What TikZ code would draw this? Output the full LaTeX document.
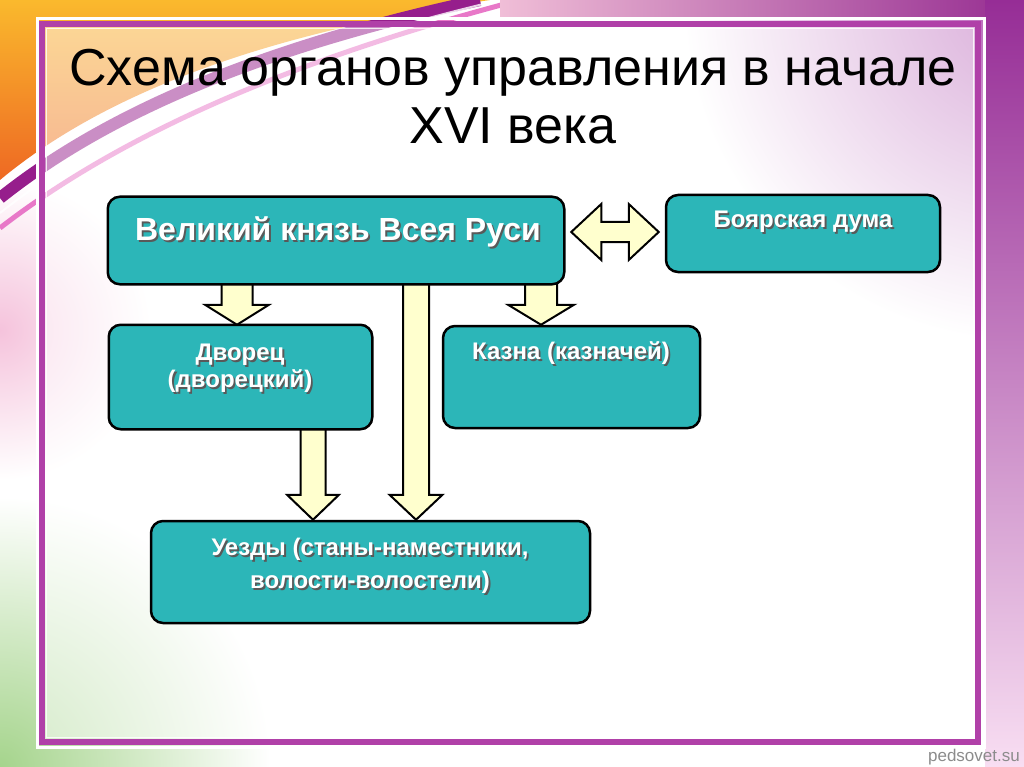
\documentclass[tikz,border=0pt]{standalone}
\usepackage{fontspec}
\setmainfont{Liberation Sans}
\newfontfamily\bx{Liberation Sans}
\usetikzlibrary{calc}
\definecolor{tealbox}{RGB}{44,182,184}
\definecolor{arrfill}{RGB}{255,255,206}
\definecolor{frame}{RGB}{176,64,168}
\definecolor{orA}{RGB}{250,185,45}
\definecolor{orB}{RGB}{238,105,35}
\definecolor{purA}{RGB}{150,30,140}
\definecolor{pinkA}{RGB}{232,120,200}
\tikzset{
  box/.style={draw=black, line width=2.5pt, fill=tealbox, rounded corners=12pt, inner sep=0pt},
  txt/.style={text=white, align=center, inner sep=0pt},
  tsh/.style={text=black!65, align=center, inner sep=0pt},
  blockarr/.style={fill=arrfill, draw=black, line width=2pt, line join=miter},
  bigfont/.style={font={\bx\bfseries\fontsize{32}{38}\selectfont}},
  smallfont/.style={font={\bx\bfseries\fontsize{24}{27}\selectfont}},
  widefont/.style={font={\bx\bfseries\fontsize{24}{33}\selectfont}},
}
% shadowed text: name, x, y, style, text
\newcommand\stxt[5]{%
  \node[tsh,#4] (#1s) at ({#2+1.8},{#3+1.8}) {#5};
  \node[txt,#4] (#1) at (#2,#3) {#5};}
% down block arrow: x centre, from node, to node, half shaft, half head, head length
\newcommand\downarr[6]{%
  \path[blockarr] let \p1=(#2.south), \p2=(#3.north) in
    ({(#1-#4)*1pt},{\y1+4pt}) -- ({(#1+#4)*1pt},{\y1+4pt}) --
    ({(#1+#4)*1pt},{\y2+#6pt}) -- ({(#1+#5)*1pt},{\y2+#6pt}) --
    ({#1*1pt},\y2) -- ({(#1-#5)*1pt},{\y2+#6pt}) --
    ({(#1-#4)*1pt},{\y2+#6pt}) -- cycle;}
\begin{document}
\begin{tikzpicture}[x=1pt,y=-1pt]
\useasboundingbox (0,0) rectangle (1024,767);
% ---------- background ----------
\fill[white] (0,0) rectangle (1024,767);
\shade[inner color={rgb,255:red,180;green,90;blue,180}, outer color=white] (1024,0) circle (340);
\shade[inner color={rgb,255:red,165;green,212;blue,140}, outer color=white] (0,767) circle (270);
\shade[inner color={rgb,255:red,245;green,195;blue,220}, outer color=white] (0,330) circle (150);
\shade[top color=orA, bottom color=orB] (0,0) -- (490,0) .. controls (300,28) and (120,80) .. (0,180) -- cycle;
\draw[line width=12pt, purA] (0,198) .. controls (110,110) and (270,45) .. (480,0);
\draw[line width=5pt, pinkA] (0,228) .. controls (120,135) and (290,60) .. (520,0);
\draw[line width=2pt, white, opacity=0.8] (0,213) .. controls (115,122) and (280,52) .. (500,0);
\shade[left color={rgb,255:red,240;green,190;blue,215}, right color={rgb,255:red,150;green,45;blue,145}] (500,0) rectangle (1024,20);
\shade[top color={rgb,255:red,150;green,45;blue,150}, bottom color={rgb,255:red,248;green,222;blue,242}] (985,0) rectangle (1024,767);
\fill[white, opacity=0.5] (45,27) rectangle (975,739);
% ---------- frame ----------
\draw[white, line width=3pt] (37,19) rectangle (984,747);
\draw[frame, line width=6pt] (42,24) rectangle (978,742);
\draw[white, line width=1.5pt, opacity=0.8] (46.5,28.5) rectangle (973.5,737.5);
% ---------- title ----------
\node[font=\fontsize{52}{58}\selectfont, align=center, inner sep=0pt] (title) at (513,97)
  {Схема органов управления в начале\\XVI века};
% ---------- boxes ----------
\node[box, minimum width=454pt, minimum height=85pt] (vk) at (336,240.5) {};
\node[box, minimum width=274pt, minimum height=77pt] (bd) at (803,233.5) {};
\node[box, minimum width=261pt, minimum height=102pt] (dv) at (240.5,377) {};
\node[box, minimum width=257pt, minimum height=102pt] (kz) at (571.5,377) {};
\node[box, minimum width=439pt, minimum height=102pt] (uz) at (370.5,572) {};
% ---------- block arrows ----------
\downarr{237}{vk}{dv}{15.5}{32}{20}
\downarr{541}{vk}{kz}{16}{33}{20}
\downarr{416}{vk}{uz}{13}{26.5}{25}
\downarr{313}{dv}{uz}{12.5}{26}{25}
\path[blockarr] let \p1=(vk.east), \p2=(bd.west) in
  ({\x1+7pt},-232pt) -- ({\x1+37pt},-204pt) -- ({\x1+37pt},-222pt) --
  ({\x2-36pt},-222pt) -- ({\x2-36pt},-204pt) -- ({\x2-6pt},-232pt) --
  ({\x2-36pt},-260pt) -- ({\x2-36pt},-242pt) -- ({\x1+37pt},-242pt) --
  ({\x1+37pt},-260pt) -- cycle;
% redraw box borders over arrow tops
\draw[line width=2.5pt, rounded corners=12pt, fill=tealbox] (vk.south west) rectangle (vk.north east);
\draw[line width=2.5pt, rounded corners=12pt, fill=tealbox] (dv.south west) rectangle (dv.north east);
% ---------- texts ----------
\stxt{vkt}{338}{232}{bigfont}{Великий князь Всея Руси}
\stxt{bdt}{803}{222}{smallfont}{Боярская дума}
\stxt{dvt}{240}{368}{smallfont}{Дворец\\(дворецкий)}
\stxt{kzt}{571}{353}{smallfont}{Казна (казначей)}
\stxt{uzt}{370}{566}{widefont}{Уезды (станы-наместники,\\волости-волостели)}
% ---------- watermark ----------
\node[text=black!45, font=\fontsize{17}{20}\selectfont, anchor=east, inner sep=0pt] (wm) at (1020,757) {pedsovet.su};
\end{tikzpicture}
\end{document}
